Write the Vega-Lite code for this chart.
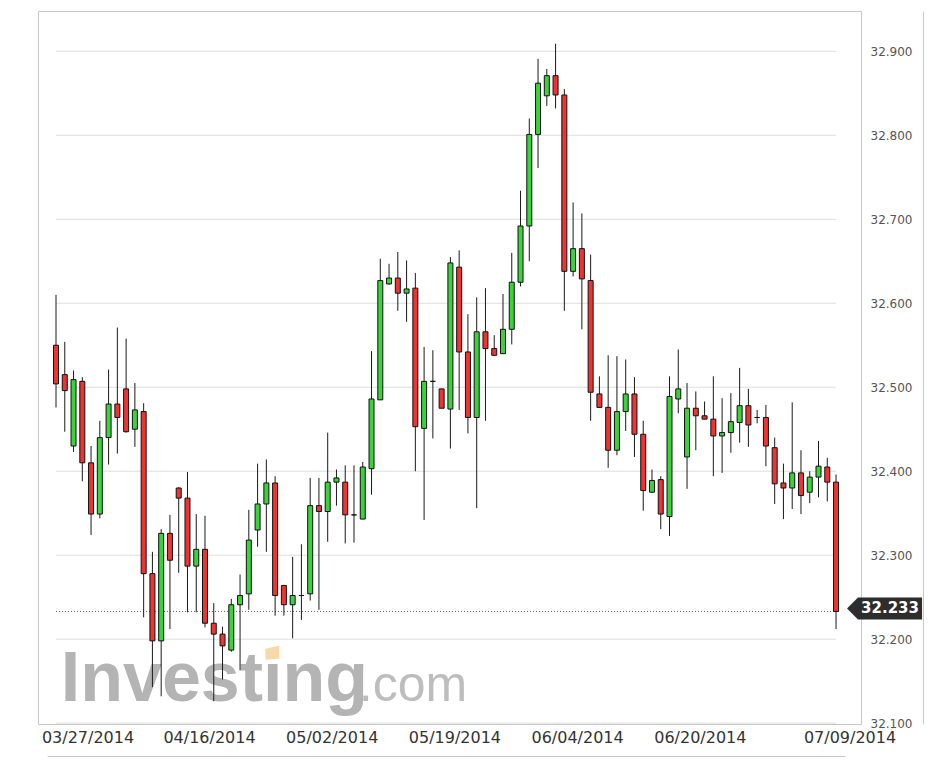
{
  "$schema": "https://vega.github.io/schema/vega-lite/v6.json",
  "width": 823,
  "height": 713,
  "autosize": "none",
  "padding": {"left": 38, "top": 11, "right": 74, "bottom": 39},
  "background": "white",
  "config": {"view": {"stroke": "#c8c8c8", "strokeWidth": 1}, "font": "DejaVu Sans"},
  "datasets": {
    "candles": [
      {"date":"03/27/2014","open":32.550,"high":32.610,"low":32.476,"close":32.504},
      {"date":"03/28/2014","open":32.515,"high":32.554,"low":32.447,"close":32.496},
      {"date":"03/30/2014","open":32.430,"high":32.520,"low":32.423,"close":32.509},
      {"date":"03/31/2014","open":32.507,"high":32.512,"low":32.388,"close":32.410},
      {"date":"04/01/2014","open":32.410,"high":32.430,"low":32.324,"close":32.349},
      {"date":"04/02/2014","open":32.349,"high":32.460,"low":32.344,"close":32.440},
      {"date":"04/03/2014","open":32.440,"high":32.521,"low":32.408,"close":32.480},
      {"date":"04/04/2014","open":32.480,"high":32.571,"low":32.421,"close":32.464},
      {"date":"04/06/2014","open":32.498,"high":32.558,"low":32.446,"close":32.447},
      {"date":"04/07/2014","open":32.450,"high":32.505,"low":32.429,"close":32.473},
      {"date":"04/08/2014","open":32.471,"high":32.481,"low":32.226,"close":32.278},
      {"date":"04/09/2014","open":32.278,"high":32.304,"low":32.143,"close":32.198},
      {"date":"04/10/2014","open":32.198,"high":32.331,"low":32.132,"close":32.326},
      {"date":"04/11/2014","open":32.326,"high":32.348,"low":32.212,"close":32.294},
      {"date":"04/13/2014","open":32.380,"high":32.381,"low":32.279,"close":32.368},
      {"date":"04/14/2014","open":32.368,"high":32.399,"low":32.232,"close":32.287},
      {"date":"04/15/2014","open":32.287,"high":32.349,"low":32.232,"close":32.307},
      {"date":"04/16/2014","open":32.307,"high":32.347,"low":32.214,"close":32.219},
      {"date":"04/17/2014","open":32.219,"high":32.243,"low":32.126,"close":32.206},
      {"date":"04/18/2014","open":32.206,"high":32.215,"low":32.152,"close":32.192},
      {"date":"04/20/2014","open":32.187,"high":32.248,"low":32.185,"close":32.241},
      {"date":"04/21/2014","open":32.241,"high":32.277,"low":32.163,"close":32.252},
      {"date":"04/22/2014","open":32.254,"high":32.354,"low":32.235,"close":32.318},
      {"date":"04/23/2014","open":32.330,"high":32.409,"low":32.310,"close":32.361},
      {"date":"04/24/2014","open":32.361,"high":32.414,"low":32.304,"close":32.386},
      {"date":"04/25/2014","open":32.386,"high":32.394,"low":32.228,"close":32.252},
      {"date":"04/27/2014","open":32.264,"high":32.264,"low":32.228,"close":32.241},
      {"date":"04/28/2014","open":32.241,"high":32.298,"low":32.201,"close":32.252},
      {"date":"04/29/2014","open":32.252,"high":32.313,"low":32.223,"close":32.252},
      {"date":"04/30/2014","open":32.254,"high":32.392,"low":32.246,"close":32.359},
      {"date":"05/01/2014","open":32.359,"high":32.392,"low":32.235,"close":32.352},
      {"date":"05/02/2014","open":32.352,"high":32.446,"low":32.316,"close":32.387},
      {"date":"05/04/2014","open":32.387,"high":32.402,"low":32.359,"close":32.392},
      {"date":"05/05/2014","open":32.387,"high":32.407,"low":32.314,"close":32.348},
      {"date":"05/06/2014","open":32.348,"high":32.407,"low":32.315,"close":32.348},
      {"date":"05/07/2014","open":32.343,"high":32.411,"low":32.343,"close":32.405},
      {"date":"05/08/2014","open":32.403,"high":32.543,"low":32.372,"close":32.486},
      {"date":"05/09/2014","open":32.485,"high":32.653,"low":32.485,"close":32.627},
      {"date":"05/11/2014","open":32.623,"high":32.647,"low":32.622,"close":32.630},
      {"date":"05/12/2014","open":32.630,"high":32.661,"low":32.591,"close":32.612},
      {"date":"05/13/2014","open":32.612,"high":32.651,"low":32.578,"close":32.617},
      {"date":"05/14/2014","open":32.618,"high":32.636,"low":32.400,"close":32.453},
      {"date":"05/15/2014","open":32.451,"high":32.548,"low":32.342,"close":32.507},
      {"date":"05/16/2014","open":32.507,"high":32.544,"low":32.439,"close":32.507},
      {"date":"05/18/2014","open":32.498,"high":32.498,"low":32.475,"close":32.475},
      {"date":"05/19/2014","open":32.474,"high":32.655,"low":32.427,"close":32.648},
      {"date":"05/20/2014","open":32.643,"high":32.663,"low":32.473,"close":32.542},
      {"date":"05/21/2014","open":32.542,"high":32.587,"low":32.445,"close":32.464},
      {"date":"05/22/2014","open":32.464,"high":32.607,"low":32.356,"close":32.566},
      {"date":"05/23/2014","open":32.566,"high":32.618,"low":32.460,"close":32.546},
      {"date":"05/25/2014","open":32.546,"high":32.562,"low":32.538,"close":32.538},
      {"date":"05/26/2014","open":32.540,"high":32.611,"low":32.540,"close":32.569},
      {"date":"05/27/2014","open":32.569,"high":32.660,"low":32.551,"close":32.625},
      {"date":"05/28/2014","open":32.625,"high":32.734,"low":32.620,"close":32.692},
      {"date":"05/29/2014","open":32.692,"high":32.820,"low":32.650,"close":32.801},
      {"date":"05/30/2014","open":32.801,"high":32.891,"low":32.761,"close":32.862},
      {"date":"06/01/2014","open":32.847,"high":32.879,"low":32.835,"close":32.871},
      {"date":"06/02/2014","open":32.871,"high":32.909,"low":32.832,"close":32.848},
      {"date":"06/03/2014","open":32.848,"high":32.855,"low":32.591,"close":32.638},
      {"date":"06/04/2014","open":32.638,"high":32.720,"low":32.632,"close":32.665},
      {"date":"06/05/2014","open":32.665,"high":32.707,"low":32.569,"close":32.629},
      {"date":"06/06/2014","open":32.627,"high":32.658,"low":32.460,"close":32.494},
      {"date":"06/08/2014","open":32.492,"high":32.513,"low":32.476,"close":32.476},
      {"date":"06/09/2014","open":32.476,"high":32.538,"low":32.404,"close":32.425},
      {"date":"06/10/2014","open":32.425,"high":32.537,"low":32.419,"close":32.471},
      {"date":"06/11/2014","open":32.471,"high":32.533,"low":32.448,"close":32.492},
      {"date":"06/12/2014","open":32.492,"high":32.512,"low":32.417,"close":32.444},
      {"date":"06/13/2014","open":32.444,"high":32.460,"low":32.353,"close":32.377},
      {"date":"06/15/2014","open":32.375,"high":32.402,"low":32.374,"close":32.389},
      {"date":"06/16/2014","open":32.390,"high":32.394,"low":32.331,"close":32.349},
      {"date":"06/17/2014","open":32.346,"high":32.513,"low":32.323,"close":32.489},
      {"date":"06/18/2014","open":32.486,"high":32.545,"low":32.469,"close":32.498},
      {"date":"06/19/2014","open":32.417,"high":32.505,"low":32.379,"close":32.475},
      {"date":"06/20/2014","open":32.475,"high":32.495,"low":32.425,"close":32.466},
      {"date":"06/22/2014","open":32.466,"high":32.483,"low":32.462,"close":32.462},
      {"date":"06/23/2014","open":32.462,"high":32.513,"low":32.394,"close":32.442},
      {"date":"06/24/2014","open":32.442,"high":32.487,"low":32.398,"close":32.446},
      {"date":"06/25/2014","open":32.446,"high":32.493,"low":32.422,"close":32.459},
      {"date":"06/26/2014","open":32.458,"high":32.523,"low":32.434,"close":32.478},
      {"date":"06/27/2014","open":32.478,"high":32.498,"low":32.429,"close":32.455},
      {"date":"06/29/2014","open":32.464,"high":32.473,"low":32.457,"close":32.464},
      {"date":"06/30/2014","open":32.464,"high":32.479,"low":32.406,"close":32.430},
      {"date":"07/01/2014","open":32.428,"high":32.440,"low":32.361,"close":32.385},
      {"date":"07/02/2014","open":32.386,"high":32.409,"low":32.343,"close":32.380},
      {"date":"07/03/2014","open":32.380,"high":32.482,"low":32.355,"close":32.398},
      {"date":"07/04/2014","open":32.398,"high":32.425,"low":32.349,"close":32.371},
      {"date":"07/06/2014","open":32.375,"high":32.400,"low":32.362,"close":32.393},
      {"date":"07/07/2014","open":32.393,"high":32.436,"low":32.369,"close":32.406},
      {"date":"07/08/2014","open":32.405,"high":32.416,"low":32.364,"close":32.387},
      {"date":"07/09/2014","open":32.387,"high":32.396,"low":32.212,"close":32.233}
    ],
    "gridlines": [{"v":32.1},{"v":32.2},{"v":32.3},{"v":32.4},{"v":32.5},{"v":32.6},{"v":32.7},{"v":32.8},{"v":32.9}],
    "last": [{"date":"07/09/2014","price":32.233,"label":"32.233"}],
    "logo": [{"date":"03/28/2014","v":32.1265,"t":"Investing"}],
    "logo2": [{"date":"05/07/2014","v":32.1265,"t":".com"}],
    "logodot": [{"date":"04/24/2014","v":32.1837}]
  },
  "layer": [
    {
      "data": {"name": "gridlines"},
      "mark": {"type": "rule", "color": "#dedede", "strokeWidth": 1},
      "encoding": {
        "x": {
          "datum": "03/27/2014", "type": "ordinal",
          "scale": {
            "type": "band", "paddingInner": 0, "paddingOuter": 0.5, "range": [9.24, 806.8],
            "domain": ["03/27/2014","03/28/2014","03/30/2014","03/31/2014","04/01/2014","04/02/2014","04/03/2014","04/04/2014","04/06/2014","04/07/2014","04/08/2014","04/09/2014","04/10/2014","04/11/2014","04/13/2014","04/14/2014","04/15/2014","04/16/2014","04/17/2014","04/18/2014","04/20/2014","04/21/2014","04/22/2014","04/23/2014","04/24/2014","04/25/2014","04/27/2014","04/28/2014","04/29/2014","04/30/2014","05/01/2014","05/02/2014","05/04/2014","05/05/2014","05/06/2014","05/07/2014","05/08/2014","05/09/2014","05/11/2014","05/12/2014","05/13/2014","05/14/2014","05/15/2014","05/16/2014","05/18/2014","05/19/2014","05/20/2014","05/21/2014","05/22/2014","05/23/2014","05/25/2014","05/26/2014","05/27/2014","05/28/2014","05/29/2014","05/30/2014","06/01/2014","06/02/2014","06/03/2014","06/04/2014","06/05/2014","06/06/2014","06/08/2014","06/09/2014","06/10/2014","06/11/2014","06/12/2014","06/13/2014","06/15/2014","06/16/2014","06/17/2014","06/18/2014","06/19/2014","06/20/2014","06/22/2014","06/23/2014","06/24/2014","06/25/2014","06/26/2014","06/27/2014","06/29/2014","06/30/2014","07/01/2014","07/02/2014","07/03/2014","07/04/2014","07/06/2014","07/07/2014","07/08/2014","07/09/2014"]
          },
          "axis": {
            "orient": "bottom", "offset": 32, "title": null,
            "values": ["03/27/2014","04/16/2014","05/02/2014","05/19/2014","06/04/2014","06/20/2014","07/09/2014"],
            "labelAngle": 0, "ticks": false, "grid": false,
            "domain": true, "domainColor": "#c8c8c8",
            "labelPadding": -19, "labelBaseline": "middle", "labelAlign": "center",
            "labelFont": "DejaVu Sans", "labelFontSize": 16, "labelColor": "#333333",
            "labelOverlap": false, "labelFlush": false, "labelBound": false,
            "labelOffset": {"condition": [{"test": "datum.value === '03/27/2014'", "value": 32}, {"test": "datum.value === '07/09/2014'", "value": 14}], "value": 4.5}
          }
        },
        "x2": {"datum": "07/09/2014"},
        "y": {
          "field": "v", "type": "quantitative",
          "scale": {"domain": [32.099, 32.948], "nice": false, "zero": false},
          "axis": {
            "orient": "right", "offset": 62, "title": null,
            "values": [32.1, 32.2, 32.3, 32.4, 32.5, 32.6, 32.7, 32.8, 32.9],
            "format": ".3f", "ticks": false, "grid": false,
            "domain": true, "domainColor": "#c8c8c8",
            "labelPadding": -53, "labelAlign": "left", "labelBaseline": "middle",
            "labelFont": "DejaVu Sans", "labelFontSize": 12, "labelColor": "#555555",
            "labelOverlap": false
          }
        }
      }
    },
    {
      "data": {"name": "logo"},
      "mark": {"type": "text", "font": "Liberation Sans", "fontWeight": "bold", "fontSize": 70, "color": "#b4b4b4", "align": "left", "baseline": "alphabetic", "dx": -4},
      "encoding": {
        "x": {"field": "date", "type": "ordinal", "title": null},
        "y": {"field": "v", "type": "quantitative", "title": null},
        "text": {"field": "t"}
      }
    },
    {
      "data": {"name": "logo2"},
      "mark": {"type": "text", "font": "Liberation Sans", "fontSize": 50, "color": "#bdbdbd", "align": "left", "baseline": "alphabetic", "dx": -4},
      "encoding": {
        "x": {"field": "date", "type": "ordinal", "title": null},
        "y": {"field": "v", "type": "quantitative", "title": null},
        "text": {"field": "t"}
      }
    },
    {
      "data": {"name": "logodot"},
      "mark": {"type": "point", "filled": true, "shape": "M -1 -0.6 L 1 -1 L 1 0.8 L -1 1 Z", "size": 196, "color": "#f8d8a8", "opacity": 1, "xOffset": 6},
      "encoding": {
        "x": {"field": "date", "type": "ordinal", "title": null},
        "y": {"field": "v", "type": "quantitative", "title": null}
      }
    },
    {
      "data": {"name": "last"},
      "mark": {"type": "rule", "color": "#666666", "strokeWidth": 1, "strokeDash": [1, 2]},
      "encoding": {
        "x": {"datum": "03/27/2014", "type": "ordinal"},
        "x2": {"datum": "07/09/2014"},
        "y": {"field": "price", "type": "quantitative", "title": null}
      }
    },
    {
      "data": {"name": "candles"},
      "mark": {"type": "rule", "color": "#1a1a1a", "strokeWidth": 1},
      "encoding": {
        "x": {"field": "date", "type": "ordinal", "title": null},
        "y": {"field": "low", "type": "quantitative", "title": null},
        "y2": {"field": "high"}
      }
    },
    {
      "data": {"name": "candles"},
      "mark": {"type": "bar", "size": 5, "stroke": "#111111", "strokeWidth": 1},
      "encoding": {
        "x": {"field": "date", "type": "ordinal", "title": null},
        "y": {"field": "open", "type": "quantitative", "title": null},
        "y2": {"field": "close"},
        "color": {"condition": {"test": "datum.close > datum.open", "value": "#3ad43a"}, "value": "#ee3333"}
      }
    },
    {
      "data": {"name": "last"},
      "mark": {"type": "point", "filled": true, "shape": "M -1 0 L -0.707 -0.293 L 1 -0.293 L 1 0.293 L -0.707 0.293 Z", "size": 5625, "color": "#2d2d2d", "opacity": 1, "strokeWidth": 0, "xOffset": 48.5, "yOffset": -3},
      "encoding": {
        "x": {"field": "date", "type": "ordinal", "title": null},
        "y": {"field": "price", "type": "quantitative", "title": null}
      }
    },
    {
      "data": {"name": "last"},
      "mark": {"type": "text", "font": "DejaVu Sans", "fontWeight": "bold", "fontSize": 15, "color": "#ffffff", "align": "center", "baseline": "middle", "dx": 54, "dy": -3},
      "encoding": {
        "x": {"field": "date", "type": "ordinal", "title": null},
        "y": {"field": "price", "type": "quantitative", "title": null},
        "text": {"field": "label"}
      }
    }
  ]
}
